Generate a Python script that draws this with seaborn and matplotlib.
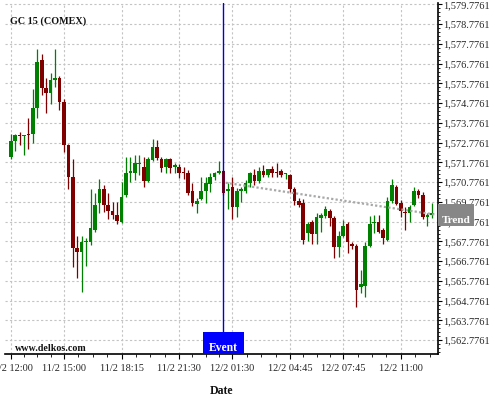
import numpy as np
import matplotlib
matplotlib.use("Agg")
import matplotlib.pyplot as plt
from matplotlib.patches import Rectangle
from matplotlib.ticker import FixedLocator, FuncFormatter
import matplotlib.transforms as mtrans
import seaborn as sns

# ---------------- data ----------------
opens = [1572.07,1572.88,1573.19,1573.11,1573.22,1573.24,1574.55,1576.96,1575.56,1575.28,
         1575.95,1576.07,1574.82,1572.68,1571.05,1567.46,1567.26,1567.75,1567.76,1568.35,
         1569.74,1570.43,1569.62,1569.33,1569.11,1568.77,1570.13,1571.26,1571.26,1571.68,
         1571.56,1570.84,1571.90,1572.57,1571.93,1571.56,1571.93,1571.57,1571.56,1571.31,
         1571.26,1570.33,1569.66,1569.92,1570.33,1570.67,1571.05,1571.26,1571.34,1570.34,
         1570.55,1569.53,1570.34,1570.34,1570.72,1571.14,1570.85,1571.34,1571.14,1571.43,
         1571.31,1571.34,1571.19,1571.14,1570.43,1569.84,1569.74,1568.19,1568.77,1568.15,
         1568.95,1569.06,1569.33,1568.95,1567.48,1568.05,1568.66,1567.65,1567.54,1565.45,
         1565.52,1567.54,1568.69,1568.77,1568.35,1567.85,1569.84,1570.55,1569.74,1569.28,
         1569.23,1569.62,1570.33,1570.13,1569.03,1569.14]
highs = [1573.20,1573.20,1573.33,1573.19,1574.03,1575.52,1577.52,1577.29,1576.05,1576.33,
         1577.52,1576.15,1575.01,1572.71,1571.93,1568.03,1568.05,1567.95,1570.43,1570.23,
         1570.92,1570.63,1570.23,1569.79,1569.79,1570.80,1572.04,1572.04,1572.15,1572.15,
         1572.04,1572.04,1572.95,1572.91,1572.07,1572.00,1572.00,1571.73,1571.70,1571.56,
         1571.39,1570.72,1569.99,1571.02,1571.02,1571.26,1571.31,1571.85,1571.39,1570.75,
         1571.02,1570.50,1570.55,1570.89,1571.29,1571.43,1571.53,1571.65,1571.43,1571.59,
         1571.73,1571.43,1571.26,1571.19,1570.53,1569.96,1569.91,1568.77,1568.86,1569.20,
         1569.20,1569.57,1569.42,1569.06,1568.32,1568.86,1568.76,1567.76,1567.65,1566.33,
         1567.76,1569.06,1569.11,1569.11,1568.46,1570.01,1570.92,1570.63,1569.87,1569.53,
         1569.62,1570.52,1570.43,1570.28,1569.20,1569.71]
lows = [1571.95,1572.35,1572.66,1572.15,1572.46,1572.76,1574.03,1575.19,1574.28,1574.73,
        1575.61,1574.43,1572.32,1570.43,1566.50,1565.91,1565.20,1566.53,1567.60,1568.25,
        1569.20,1569.28,1568.91,1568.91,1568.64,1568.73,1570.01,1570.80,1570.89,1571.14,
        1570.52,1570.80,1571.85,1571.90,1571.31,1571.23,1571.23,1571.26,1570.97,1570.92,
        1570.13,1569.57,1569.20,1569.87,1569.71,1570.29,1570.89,1571.19,1570.13,1569.40,
        1568.90,1569.00,1569.79,1570.21,1570.55,1570.63,1570.75,1571.02,1571.04,1571.02,
        1571.02,1571.05,1570.92,1570.29,1569.62,1569.53,1567.65,1567.81,1567.65,1567.65,
        1568.27,1568.96,1568.56,1566.92,1567.00,1568.00,1567.20,1567.38,1564.44,1565.15,
        1564.98,1567.49,1568.22,1568.20,1567.65,1567.80,1569.71,1569.62,1569.00,1568.35,
        1568.77,1569.57,1569.97,1568.91,1568.56,1568.95]
closes = [1572.86,1573.16,1573.13,1573.16,1573.16,1574.53,1576.86,1575.56,1575.28,1575.95,
          1576.04,1574.85,1572.68,1571.05,1567.47,1567.26,1567.76,1567.80,1568.44,1569.62,
          1570.43,1569.62,1569.33,1569.11,1568.83,1570.01,1571.26,1571.34,1571.73,1571.76,
          1570.84,1571.93,1572.54,1571.98,1571.48,1571.93,1571.48,1571.61,1571.26,1571.23,
          1570.24,1569.74,1569.82,1570.33,1570.72,1571.02,1571.26,1571.34,1570.24,1570.42,
          1569.53,1570.34,1570.42,1570.72,1571.26,1570.85,1571.34,1571.14,1571.43,1571.26,
          1571.23,1571.14,1571.26,1570.43,1569.84,1569.62,1567.85,1568.66,1568.15,1569.03,
          1569.11,1569.40,1568.95,1567.48,1568.05,1568.56,1567.76,1567.54,1565.32,1565.60,
          1567.54,1568.66,1568.77,1568.27,1567.93,1569.84,1570.63,1569.67,1569.33,1569.23,
          1569.50,1570.33,1570.13,1569.03,1569.11,1569.17]

tick_index = [0, 12, 25, 38, 50, 63, 75, 88]
tick_labels = ["11/2 12:00", "11/2 15:00", "11/2 18:15", "11/2 21:30",
               "12/2 01:30", "12/2 04:45", "12/2 07:45", "12/2 11:00"]
price_ticks = [1562.7761 + k for k in range(18)]

event_index = 48
trend_index = [48.5, 96.0]
trend_values = [1570.75, 1569.13]

title = "GC 15 (COMEX)"
watermark = "www.delkos.com"

# ---------------- style ----------------
sns.set_style("white")
plt.rcParams["font.family"] = ["Liberation Serif", "DejaVu Serif"]

UP = "#008000"
DOWN = "#800000"

fig = plt.figure(figsize=(5, 4), dpi=100)
ax = fig.add_axes([0.01, 0.115, 0.866, 0.8775])

df_idx = np.arange(len(opens))
o = np.array(opens); c = np.array(closes)
h = np.array(highs); l = np.array(lows)
up = c >= o
colors = np.where(up, UP, DOWN)

# wicks
ax.vlines(df_idx, l, h, colors=colors, linewidth=0.9, zorder=3)
# bodies
body_bottom = np.minimum(o, c)
body_height = np.maximum(np.abs(c - o), 0.06)
ax.bar(df_idx, body_height, bottom=body_bottom, width=0.82,
       color=colors, linewidth=0, zorder=4)

# trend line (seaborn)
sns.lineplot(x=trend_index, y=trend_values, ax=ax, color="#a8a8a8",
             linewidth=1.6, linestyle=(0, (1, 1)), zorder=5)

# event line
ax.axvline(event_index, color="#0000dd", linewidth=1.0, zorder=6)

ax.set_xlim(-1.29, 96.4)
ax.set_ylim(1562.08, 1579.85)

# axes ticks
ax.xaxis.set_major_locator(FixedLocator(tick_index))
ax.set_xticklabels(tick_labels)
minor = []
ext = tick_index + [101]
for a, b in zip(ext[:-1], ext[1:]):
    for k in (1, 2, 3):
        minor.append(a + (b - a) * k / 4)
ax.xaxis.set_minor_locator(FixedLocator(minor))

ax.yaxis.tick_right()
ax.yaxis.set_major_locator(FixedLocator(price_ticks))
ax.yaxis.set_major_formatter(FuncFormatter(lambda v, p: f"{v:,.4f}"))
yminor = []
for t in price_ticks + [price_ticks[-1] + 1]:
    for k in (1, 2, 3, 4):
        yminor.append(t - 1 + 0.2 * k)
ax.yaxis.set_minor_locator(FixedLocator(yminor))

ax.tick_params(axis="x", which="major", direction="out", length=3.4, width=0.8,
               color="black", labelsize=7.5, pad=3.5, bottom=True)
ax.tick_params(axis="x", which="minor", direction="out", length=2.0, width=0.6,
               color="black", bottom=True)
ax.tick_params(axis="y", which="major", direction="out", length=3.0, width=0.8,
               color="black", labelsize=7.5, pad=0.8, right=True, left=False)
ax.tick_params(axis="y", which="minor", direction="out", length=1.6, width=0.6,
               color="black", right=True, left=False)

for side in ("left", "top"):
    ax.spines[side].set_visible(False)
for side in ("right", "bottom"):
    ax.spines[side].set_visible(True)
    ax.spines[side].set_color("black")
    ax.spines[side].set_linewidth(1.2)

ax.grid(True, which="major", color="#c4c4c4", linestyle=(0, (2, 2)), linewidth=0.8)
ax.set_axisbelow(True)
ax.set_xlabel("")
ax.set_ylabel("")

# Event box
trans = mtrans.blended_transform_factory(ax.transData, ax.transAxes)
ev_w = 9.25
ax.add_patch(Rectangle((event_index - ev_w / 2, 0), ev_w, 0.0627, transform=trans,
                       facecolor="#0000ff", edgecolor="none", zorder=7, clip_on=False))
ax.text(event_index, 0.008, "Event", transform=trans, ha="center", va="baseline",
        color="white", fontsize=8.4, fontweight="bold", zorder=8)

# Trend box (figure coords, over axis labels)
fig.patches.append(Rectangle((0.876, 0.435), 0.072, 0.055, transform=fig.transFigure,
                             facecolor="#878787", edgecolor="none", zorder=5))
fig.text(0.912, 0.443, "Trend", ha="center", va="baseline", color="white",
         fontsize=8.1, fontweight="bold", zorder=6)

# texts
fig.text(0.02, 1 - 23.5 / 400, title, ha="left", va="baseline",
         fontsize=7.3, fontweight="bold", color="#111111")
fig.text(0.03, 1 - 351 / 400, watermark, ha="left", va="baseline",
         fontsize=7.2, fontweight="bold", color="#111111")
fig.text(0.442, 1 - 394 / 400, "Date", ha="center", va="baseline",
         fontsize=8.5, fontweight="bold", color="#111111")

fig.savefig("out.png", dpi=100)
